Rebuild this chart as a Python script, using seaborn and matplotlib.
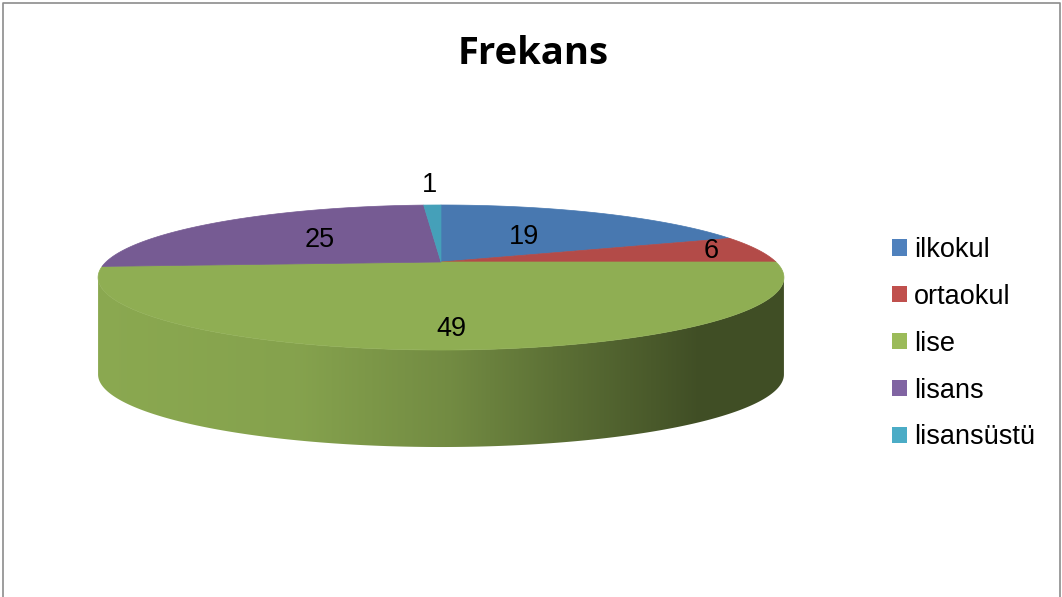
import numpy as np
import matplotlib
matplotlib.use("Agg")
import matplotlib.pyplot as plt
import seaborn as sns
from matplotlib.patches import Polygon, Patch
from matplotlib.colors import to_rgb

# ---- data -------------------------------------------------------------
categories = ["ilkokul", "ortaokul", "lise", "lisans", "lisansüstü"]
frequencies = [19, 6, 49, 25, 1]
chart_title = "Frekans"

# ---- styling ----------------------------------------------------------
sns.set_theme(style="white")
plt.rcParams["font.family"] = ["Liberation Sans", "DejaVu Sans"]
plt.rcParams["text.color"] = "black"

legend_palette = sns.color_palette(["#4f81bd", "#c0504d", "#9bbb59", "#8064a2", "#4bacc6"])
face_palette = sns.color_palette(["#4878b0", "#b34b48", "#8fae53", "#765b93", "#45a0b9"])

# label distance from the centre, as a fraction of the radius
label_radius = [0.48, 0.85, 0.8, 0.52, 1.45]

# perspective disc geometry (pixel space)
CX, CY = 441.0, 262.0
RX, RY = 335.0, 69.2
PERSP = 0.2138
THICK = 97.0

W, H = 1062, 597
fig = plt.figure(figsize=(W / 100, H / 100), dpi=100)
ax = fig.add_axes([0, 0, 1, 1])
ax.set_xlim(0, W)
ax.set_ylim(H, 0)
ax.axis("off")


def project(theta_deg, r=1.0, depth=0.0):
    """Clockwise angle from 12 o'clock -> screen point on the tilted disc."""
    th = np.radians(theta_deg)
    u = r * np.sin(th)
    v = -r * np.cos(th)
    w = 1.0 - PERSP * v
    return CX + RX * u / w, CY + RY * v / w + depth


total = float(sum(frequencies))
spans = [360.0 * f / total for f in frequencies]
starts = np.concatenate([[0.0], np.cumsum(spans)[:-1]])

# silhouette of the visible rim
theta_right = np.degrees(np.arccos(-PERSP))
theta_left = 360.0 - theta_right


def shade(x):
    xs = [95, 300, 450, 560, 650, 700, 790]
    fs = [0.97, 0.93, 0.80, 0.64, 0.52, 0.45, 0.45]
    return np.interp(x, xs, fs)


# ---- rim (side wall) --------------------------------------------------
for start, span, col in zip(starts, spans, face_palette):
    a0 = max(start, theta_right)
    a1 = min(start + span, theta_left)
    if a1 <= a0:
        continue
    t = np.linspace(a0, a1, 200)
    tx, ty = project(t)
    bx, by = project(t[::-1], depth=THICK)
    poly = Polygon(np.column_stack([np.r_[tx, bx], np.r_[ty, by]]),
                   closed=True, facecolor="none", edgecolor="none")
    ax.add_patch(poly)
    xs = np.linspace(90, 795, 400)
    rgb = np.array(to_rgb(col))
    img = (shade(xs)[:, None] * rgb[None, :])[None, :, :]
    im = ax.imshow(img, extent=[90, 795, CY + RY * 2 + THICK + 20, CY - 20],
                   aspect="auto", interpolation="bilinear", zorder=1)
    im.set_clip_path(poly)

# ---- top faces --------------------------------------------------------
for start, span, col in zip(starts, spans, face_palette):
    t = np.linspace(start, start + span, max(int(span * 2), 4))
    ax_, ay_ = project(t)
    pts = np.column_stack([np.r_[CX, ax_], np.r_[CY, ay_]])
    ax.add_patch(Polygon(pts, closed=True, facecolor=col, edgecolor=col,
                         linewidth=0.5, zorder=2))

# ---- value labels -----------------------------------------------------
for start, span, val, rr in zip(starts, spans, frequencies, label_radius):
    lx, ly = project(start + span / 2.0, r=rr)
    ax.text(lx, ly, f"{val}", ha="center", va="center", fontsize=19.5,
            color="black", zorder=3)

# ---- title ------------------------------------------------------------
ax.text(533, 64, chart_title, ha="center", va="baseline", fontsize=27.5,
        fontweight="bold", family=["Open Sans", "DejaVu Sans"], color="black")

# ---- legend -----------------------------------------------------------
handles = [Patch(facecolor=c, edgecolor="none") for c in legend_palette]
ax.legend(handles, categories, loc="upper left", bbox_to_anchor=(892, 237),
          bbox_transform=ax.transData, frameon=False, fontsize=19.5,
          labelcolor="black", handlelength=0.55, handleheight=0.55,
          handletextpad=0.26, labelspacing=0.77, borderpad=0, borderaxespad=0)

# ---- chart frame ------------------------------------------------------
ax.plot([2.5, 2.5, 1059.5, 1059.5], [H + 5, 2.5, 2.5, H + 5],
        color="#8c8c8c", linewidth=1.2, solid_capstyle="butt", zorder=5)

fig.savefig("out.png", dpi=100, facecolor="white")
